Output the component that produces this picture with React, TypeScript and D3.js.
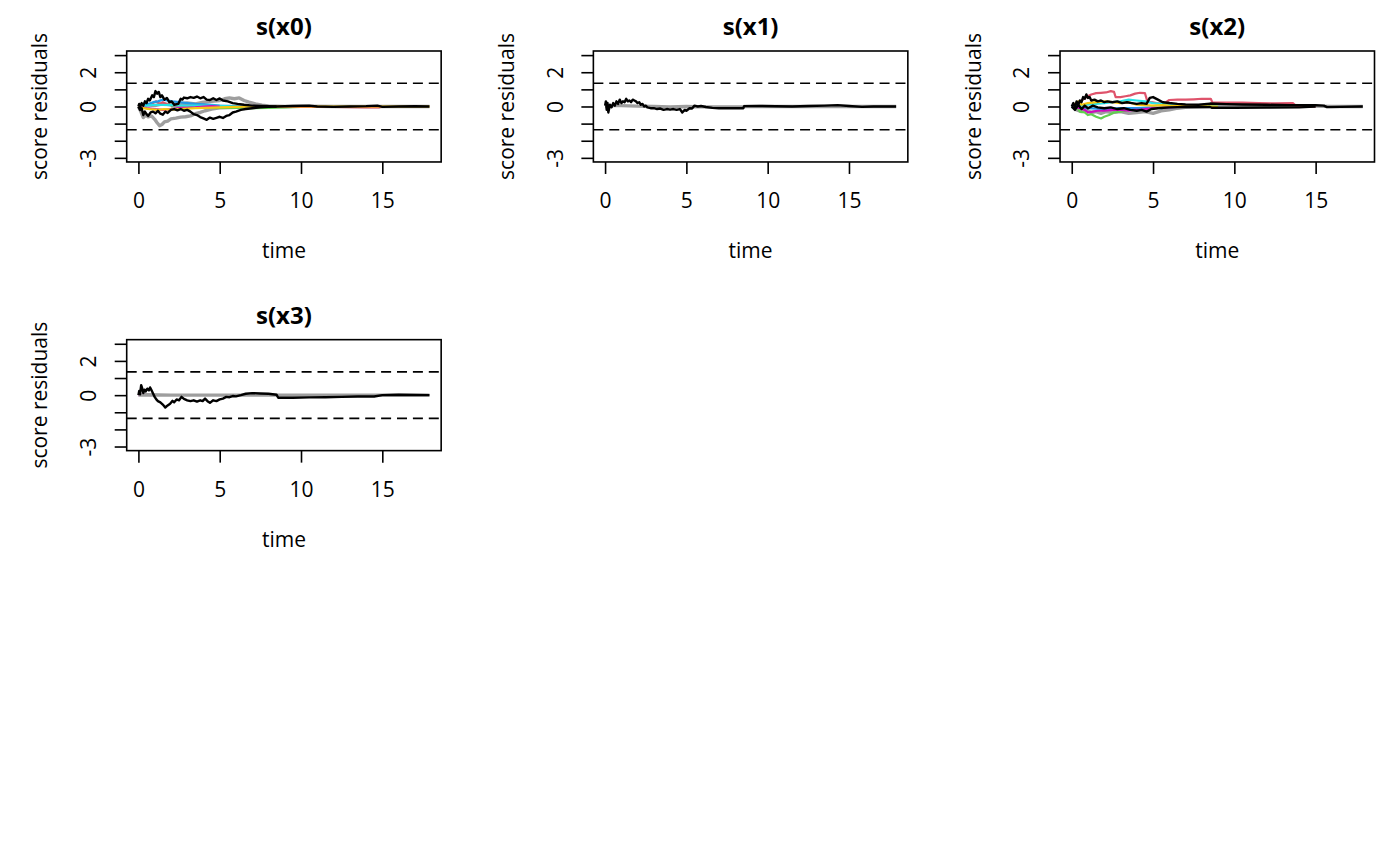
import { useEffect, useRef } from 'react';
import * as d3 from 'd3';

type Pt = [number, number];

// panel text and axes
const titles = ['s(x0)', 's(x1)', 's(x2)', 's(x3)'];
const xLabel = 'time';
const yLabel = 'score residuals';
const xTicks = [0, 5, 10, 15];
const yTicks = [-3, -2, -1, 0, 1, 2, 3];
const yLabelled = [-3, 0, 2];
const xLim: [number, number] = [-0.72, 18.62];
const yLim: [number, number] = [-3.24, 3.24];
const bandLimit = 1.358;

// s(x0)
const x0GreyLow: Pt[] = [[0, 0], [0.15, -0.3], [0.3, -0.65], [0.45, -0.5], [0.6, -0.6], [0.8, -0.55], [1.0, -0.75], [1.15, -0.95], [1.3, -1.12], [1.45, -1.05], [1.6, -0.9], [1.8, -0.85], [2.0, -0.72], [2.3, -0.68], [2.6, -0.62], [2.9, -0.6], [3.2, -0.55], [3.5, -0.42], [3.8, -0.35], [4.1, -0.25], [4.5, -0.15], [5, -0.08], [6, -0.05], [7, -0.02], [8, 0]];
const x0GreyUp: Pt[] = [[0, 0], [0.5, 0.1], [1, 0.05], [1.5, 0.15], [2, 0.1], [2.5, 0.15], [3, 0.2], [3.5, 0.15], [4, 0.25], [4.5, 0.3], [5, 0.35], [5.3, 0.45], [5.6, 0.5], [5.9, 0.45], [6.2, 0.5], [6.5, 0.35], [6.8, 0.25], [7.2, 0.15], [7.6, 0.08], [8, 0.03], [9, 0], [10, 0.02], [12, 0], [15, 0], [17.9, 0]];
const x0Blue: Pt[] = [[0, 0], [0.3, 0.1], [0.6, 0.15], [0.9, 0.25], [1.2, 0.3], [1.5, 0.4], [1.8, 0.35], [2.1, 0.3], [2.5, 0.25], [3, 0.2], [3.5, 0.15], [4, 0.12], [4.5, 0.1], [5, 0.05], [6, 0.02], [7, 0]];
const x0Red: Pt[] = [[0.3, 0], [0.6, 0.1], [0.9, 0.2], [1.1, 0.3], [1.3, 0.15], [1.5, 0.25], [1.8, 0.1], [2.2, 0.05], [3, 0.05], [4, 0.02], [5, 0], [8, 0], [10, -0.02], [12, -0.03], [14, -0.05], [14.8, -0.05], [15, 0]];
const x0Cyan: Pt[] = [[0, 0], [0.5, 0.05], [1, 0.1], [2, 0.08], [3, 0.05], [4, 0.05], [5, 0.03], [6, 0]];
const x0Magenta: Pt[] = [[0, 0], [0.5, -0.1], [1, -0.15], [1.5, -0.2], [2, -0.15], [2.5, -0.1], [3, -0.08], [3.5, -0.05], [4, 0], [4.5, 0.02], [5, 0]];
const x0Yellow: Pt[] = [[0, 0], [0.3, -0.1], [0.7, -0.15], [1.2, -0.2], [1.6, -0.15], [2, -0.18], [2.5, -0.15], [3, -0.12], [3.5, -0.1], [4, -0.08], [5, -0.05], [6, -0.02], [7, 0], [10, 0], [15, 0], [17.9, 0]];
const x0Green: Pt[] = [[2, 0], [3, -0.03], [4, -0.05], [5, -0.08], [6, -0.08], [7, -0.1], [8, -0.08], [9, -0.05], [10, -0.02], [11, 0]];
const x0BlackUp: Pt[] = [[0, 0], [0.05, 0.15], [0.1, -0.05], [0.2, 0.2], [0.3, 0.05], [0.4, 0.3], [0.5, 0.2], [0.6, 0.45], [0.7, 0.35], [0.85, 0.65], [0.95, 0.55], [1.05, 0.9], [1.15, 0.75], [1.25, 0.85], [1.35, 0.55], [1.45, 0.65], [1.6, 0.4], [1.75, 0.5], [1.9, 0.25], [2.05, 0.3], [2.2, 0.1], [2.45, 0.15], [2.6, 0.45], [2.7, 0.4], [2.8, 0.52], [3.0, 0.48], [3.2, 0.55], [3.4, 0.5], [3.6, 0.58], [3.8, 0.48], [4.0, 0.55], [4.2, 0.4], [4.4, 0.38], [4.6, 0.48], [4.8, 0.38], [5.0, 0.47], [5.2, 0.35], [5.5, 0.3], [5.8, 0.2], [6.1, 0.15], [6.5, 0.1], [7, 0.05], [8.0, 0.02], [8.5, 0.0], [9.5, 0.03], [10.5, 0.05], [11, 0.0], [12, -0.02], [13, 0.0], [14, 0.02], [14.7, 0.05], [15, -0.02], [16, 0.0], [17, 0.01], [17.9, 0]];
const x0BlackLow: Pt[] = [[0, 0], [0.1, -0.2], [0.2, -0.1], [0.3, -0.5], [0.4, -0.3], [0.5, -0.45], [0.6, -0.55], [0.75, -0.35], [0.9, -0.3], [1.05, -0.4], [1.2, -0.25], [1.35, -0.42], [1.5, -0.48], [1.65, -0.3], [1.8, -0.38], [2.0, -0.2], [2.2, -0.15], [2.4, -0.22], [2.6, -0.15], [2.8, -0.25], [3.0, -0.2], [3.2, -0.3], [3.4, -0.45], [3.6, -0.5], [3.8, -0.62], [4.0, -0.7], [4.2, -0.78], [4.4, -0.65], [4.6, -0.72], [4.8, -0.66], [5.0, -0.6], [5.2, -0.67], [5.4, -0.55], [5.6, -0.5], [5.8, -0.35], [6.0, -0.3], [6.3, -0.2], [6.6, -0.15], [7.0, -0.1], [7.5, -0.05], [8, -0.02], [8.5, 0]];

// s(x1)
const x1Grey: Pt[] = [[0, 0], [0.5, 0.05], [1, 0.05], [2, 0.02], [3, 0], [4, -0.02], [5, 0], [6, -0.02], [7, -0.03], [8, -0.03], [8.5, -0.03], [8.55, 0], [12, 0], [17.9, 0]];
const x1Black: Pt[] = [[0, 0.05], [0.05, 0.3], [0.1, -0.2], [0.15, 0.2], [0.2, -0.35], [0.3, 0.1], [0.4, -0.05], [0.5, 0.2], [0.6, 0.05], [0.7, 0.3], [0.8, 0.15], [0.9, 0.4], [1.0, 0.2], [1.1, 0.3], [1.2, 0.25], [1.3, 0.45], [1.4, 0.3], [1.5, 0.35], [1.6, 0.25], [1.7, 0.4], [1.8, 0.35], [1.9, 0.3], [2.0, 0.2], [2.1, 0.25], [2.2, 0.1], [2.3, 0.15], [2.4, 0.0], [2.5, 0.05], [2.6, -0.05], [2.8, -0.1], [3.0, -0.1], [3.2, -0.15], [3.4, -0.12], [3.6, -0.2], [3.8, -0.15], [4.0, -0.18], [4.2, -0.15], [4.4, -0.2], [4.6, -0.15], [4.75, -0.35], [4.9, -0.2], [5.0, -0.25], [5.2, -0.1], [5.35, -0.12], [5.5, 0.05], [5.7, 0.0], [5.9, 0.03], [6.2, -0.03], [6.6, -0.08], [7.0, -0.1], [7.5, -0.1], [8.0, -0.1], [8.5, -0.1], [8.55, 0.02], [9.5, 0.03], [10.5, 0.01], [11.5, 0.0], [12.5, 0.03], [13.5, 0.05], [14.3, 0.08], [15, 0.03], [15.8, -0.02], [16.5, 0], [17.9, 0]];

// s(x2)
const x2Grey: Pt[] = [[0, 0], [0.3, -0.2], [0.6, -0.3], [0.9, -0.2], [1.2, -0.35], [1.5, -0.3], [1.8, -0.4], [2.1, -0.3], [2.5, -0.35], [3, -0.3], [3.5, -0.4], [4, -0.35], [4.5, -0.3], [5, -0.4], [5.5, -0.25], [6, -0.2], [6.5, -0.1], [7, -0.05], [8, -0.02], [8.5, 0], [8.6, 0.08], [10, 0.1], [12, 0.08], [14, 0.05], [15, 0.02], [16, 0], [17.9, 0]];
const x2Red: Pt[] = [[0, 0], [0.3, 0.1], [0.6, 0.35], [0.9, 0.55], [1.2, 0.7], [1.5, 0.78], [1.8, 0.8], [2.1, 0.82], [2.4, 0.9], [2.6, 0.85], [2.7, 0.55], [3.0, 0.55], [3.3, 0.6], [3.6, 0.65], [3.9, 0.75], [4.2, 0.8], [4.5, 0.78], [4.65, 0.3], [4.9, 0.25], [5.2, 0.2], [5.5, 0.18], [5.8, 0.25], [6.0, 0.38], [6.5, 0.4], [7, 0.4], [7.5, 0.42], [8, 0.45], [8.55, 0.45], [8.65, 0.24], [9.5, 0.22], [10.5, 0.22], [11.5, 0.2], [12.5, 0.18], [13.6, 0.2], [13.8, 0.03], [14.5, 0], [15, 0]];
const x2Green: Pt[] = [[0.3, 0], [0.5, -0.3], [0.8, -0.35], [1.0, -0.5], [1.2, -0.45], [1.5, -0.6], [1.8, -0.7], [2.0, -0.6], [2.3, -0.5], [2.6, -0.35], [3, -0.3], [3.5, -0.2], [4, -0.15], [5, -0.1], [6, -0.05], [7, 0]];
const x2Blue: Pt[] = [[0, 0], [0.5, -0.05], [1, -0.1], [2, -0.15], [3, -0.1], [4, -0.1], [5, -0.05], [5.5, -0.1], [6, -0.05], [7, 0], [9, 0]];
const x2Cyan: Pt[] = [[0, 0], [1, 0.1], [2, 0.2], [2.5, 0.25], [3, 0.3], [3.5, 0.4], [4, 0.35], [4.5, 0.3], [5, 0.2], [5.5, 0.15], [6, 0.1], [7, 0.05], [8, 0.02], [9, 0]];
const x2Magenta: Pt[] = [[0, 0], [0.5, -0.1], [0.8, -0.2], [1.0, -0.35], [1.3, -0.3], [1.6, -0.25], [2, -0.25], [2.5, -0.2], [3, -0.2], [3.5, -0.25], [3.8, -0.2], [4.2, -0.2], [4.5, -0.15], [5, -0.1], [6, -0.05], [7, 0]];
const x2Yellow: Pt[] = [[0, 0], [0.4, 0.3], [0.6, 0.1], [1, 0.2], [1.5, 0.25], [2, 0.3], [2.5, 0.25], [3, 0.2], [3.5, 0.25], [4, 0.1], [4.5, 0.08], [5, 0.05], [5.5, 0.08], [6, 0.05], [7, 0.03], [8, 0.02], [9, 0]];
const x2BlackA: Pt[] = [[0, 0], [0.1, 0.2], [0.2, -0.1], [0.3, 0.3], [0.4, 0.1], [0.5, 0.35], [0.6, 0.25], [0.7, 0.55], [0.8, 0.45], [0.9, 0.7], [1.0, 0.5], [1.1, 0.55], [1.2, 0.35], [1.4, 0.4], [1.6, 0.3], [1.8, 0.35], [2.0, 0.25], [2.2, 0.3], [2.5, 0.25], [2.8, 0.3], [3.1, 0.2], [3.4, 0.25], [3.7, 0.2], [4.0, 0.15], [4.3, 0.2], [4.6, 0.15], [4.8, 0.5], [5.0, 0.55], [5.3, 0.4], [5.6, 0.25], [6, 0.2], [6.5, 0.15], [7, 0.12], [7.8, 0.1], [8.5, 0.17], [9.5, 0.14], [10.5, 0.12], [12, 0.1], [13.5, 0.08], [15, 0.07], [15.5, 0.05], [15.7, -0.04], [16.5, -0.02], [17.9, 0]];
const x2BlackB: Pt[] = [[0, 0], [0.2, -0.2], [0.4, 0.1], [0.6, -0.15], [0.8, 0.05], [1.0, -0.1], [1.3, 0.05], [1.6, -0.05], [2.0, -0.1], [2.4, -0.05], [2.8, -0.15], [3.2, -0.1], [3.6, -0.2], [4.0, -0.25], [4.3, -0.2], [4.6, -0.3], [4.9, -0.15], [5.3, -0.1], [6, -0.05], [7, -0.02], [8.5, -0.03], [8.6, -0.07], [10, -0.07], [12, -0.06], [14, -0.05], [14.6, -0.02], [15, 0]];

// s(x3)
const x3Grey: Pt[] = [[0, 0], [0.5, 0.02], [2, 0], [8.5, 0], [15, 0], [17.9, 0]];
const x3Magenta: Pt[] = [[0, 0], [0.3, 0.04], [0.6, 0.02], [0.8, 0]];
const x3Black: Pt[] = [[0, 0], [0.05, 0.25], [0.1, 0.05], [0.17, 0.58], [0.25, 0.35], [0.3, 0.12], [0.38, 0.32], [0.45, 0.22], [0.55, 0.38], [0.65, 0.28], [0.72, 0.45], [0.8, 0.3], [0.9, 0.1], [1.0, -0.1], [1.1, -0.25], [1.2, -0.35], [1.35, -0.42], [1.5, -0.55], [1.65, -0.72], [1.8, -0.6], [1.95, -0.5], [2.1, -0.33], [2.2, -0.42], [2.35, -0.25], [2.5, -0.3], [2.65, -0.1], [2.8, -0.22], [3.0, -0.3], [3.2, -0.35], [3.4, -0.3], [3.6, -0.38], [3.8, -0.3], [3.95, -0.35], [4.1, -0.2], [4.25, -0.35], [4.4, -0.45], [4.6, -0.3], [4.8, -0.35], [5.0, -0.25], [5.2, -0.2], [5.4, -0.1], [5.6, -0.12], [5.8, -0.05], [6.0, -0.07], [6.3, 0.0], [6.6, 0.08], [7.0, 0.12], [7.5, 0.1], [8.0, 0.08], [8.5, 0.02], [8.6, -0.15], [9.5, -0.15], [10.5, -0.13], [11.5, -0.12], [12.5, -0.1], [13.5, -0.08], [14.5, -0.08], [15.0, 0.0], [16, 0.02], [17.9, 0.0]];

// R default palette
const palette: Record<string, string> = {
  black: '#000000',
  red: '#DF536B',
  green: '#61D04F',
  blue: '#2297E6',
  cyan: '#28E2E5',
  magenta: '#CD0BBC',
  yellow: '#F5C710',
  grey: '#9E9E9E',
};

const panels: { pts: Pt[]; col: string }[][] = [
  [
    { pts: x0GreyLow, col: 'grey' },
    { pts: x0GreyUp, col: 'grey' },
    { pts: x0Green, col: 'green' },
    { pts: x0Red, col: 'red' },
    { pts: x0Blue, col: 'blue' },
    { pts: x0Cyan, col: 'cyan' },
    { pts: x0Magenta, col: 'magenta' },
    { pts: x0Yellow, col: 'yellow' },
    { pts: x0BlackLow, col: 'black' },
    { pts: x0BlackUp, col: 'black' },
  ],
  [
    { pts: x1Grey, col: 'grey' },
    { pts: x1Black, col: 'black' },
  ],
  [
    { pts: x2Grey, col: 'grey' },
    { pts: x2Red, col: 'red' },
    { pts: x2Green, col: 'green' },
    { pts: x2Blue, col: 'blue' },
    { pts: x2Magenta, col: 'magenta' },
    { pts: x2Cyan, col: 'cyan' },
    { pts: x2Yellow, col: 'yellow' },
    { pts: x2BlackB, col: 'black' },
    { pts: x2BlackA, col: 'black' },
  ],
  [
    { pts: x3Magenta, col: 'magenta' },
    { pts: x3Grey, col: 'grey' },
    { pts: x3Black, col: 'black' },
  ],
];

const WIDTH = 1400;
const HEIGHT = 866;
const FONT = '"Open Sans", "Noto Sans", sans-serif';

export default function App() {
  const svgRef = useRef<SVGSVGElement>(null);

  useEffect(() => {
    if (!svgRef.current) return;
    const svg = d3.select(svgRef.current);
    svg.selectAll('*').remove();

    // 3x3 layout like par(mfrow = c(3, 3))
    const cellW = WIDTH / 3;
    const cellH = HEIGHT / 3;
    const margin = { top: 51, right: 25.5, bottom: 126.7, left: 126.7 };

    panels.forEach((series, i) => {
      const g = svg
        .append('g')
        .attr('transform', `translate(${(i % 3) * cellW},${Math.floor(i / 3) * cellH})`);

      const x = d3.scaleLinear().domain(xLim).range([margin.left, cellW - margin.right]);
      const y = d3.scaleLinear().domain(yLim).range([cellH - margin.bottom, margin.top]);
      const [x0, x1] = x.range();
      const [yBottom, yTop] = y.range();

      // x axis
      const xAxis = g
        .append('g')
        .attr('transform', `translate(0,${yBottom})`)
        .call(d3.axisBottom(x).tickValues(xTicks).tickSize(12).tickSizeOuter(0).tickPadding(19.4).tickFormat((d) => String(d)));
      xAxis.select('.domain').remove();
      xAxis.attr('font-size', 21).attr('font-family', FONT);
      xAxis.selectAll('line').attr('stroke-width', 1.6);

      // y axis, labels parallel to the axis
      const yAxis = g
        .append('g')
        .attr('transform', `translate(${x0},0)`)
        .call(
          d3
            .axisLeft(y)
            .tickValues(yTicks)
            .tickSize(12)
            .tickSizeOuter(0)
            .tickFormat((d) => (yLabelled.includes(+d) ? String(d) : ''))
        );
      yAxis.select('.domain').remove();
      yAxis.attr('font-size', 21).attr('font-family', FONT);
      yAxis.selectAll('line').attr('stroke-width', 1.6);
      yAxis
        .selectAll('text')
        .attr('x', null)
        .attr('dy', null)
        .attr('text-anchor', 'middle')
        .attr('transform', 'translate(-30.7,0) rotate(-90)');

      // reference band
      [bandLimit, -bandLimit].forEach((v) => {
        g.append('line')
          .attr('x1', x0)
          .attr('x2', x1)
          .attr('y1', y(v))
          .attr('y2', y(v))
          .attr('stroke', 'black')
          .attr('stroke-width', 1.7)
          .attr('stroke-dasharray', '10,5.9');
      });

      // residual paths
      const line = d3
        .line<Pt>()
        .x((d) => x(d[0]))
        .y((d) => y(d[1]));

      series.forEach((s) => {
        g.append('path')
          .datum(s.pts)
          .attr('fill', 'none')
          .attr('stroke', palette[s.col])
          .attr('stroke-width', s.col === 'grey' ? 3.4 : s.col === 'black' ? 2.4 : 2.2)
          .attr('stroke-linejoin', 'round')
          .attr('d', line);
      });

      // box
      g.append('rect')
        .attr('x', x0)
        .attr('y', yTop)
        .attr('width', x1 - x0)
        .attr('height', yBottom - yTop)
        .attr('fill', 'none')
        .attr('stroke', 'black')
        .attr('stroke-width', 1.6);

      // titles and labels
      const cx = (x0 + x1) / 2;
      g.append('text')
        .attr('x', cx)
        .attr('y', 35)
        .attr('text-anchor', 'middle')
        .attr('font-family', FONT)
        .attr('font-weight', 'bold')
        .attr('font-size', 24)
        .text(titles[i]);

      g.append('text')
        .attr('x', cx)
        .attr('y', 258.3)
        .attr('text-anchor', 'middle')
        .attr('font-family', FONT)
        .attr('font-size', 21)
        .text(xLabel);

      g.append('text')
        .attr('transform', `translate(47.3,${(yTop + yBottom) / 2}) rotate(-90)`)
        .attr('text-anchor', 'middle')
        .attr('font-family', FONT)
        .attr('font-size', 21)
        .text(yLabel);
    });
  }, []);

  return (
    <svg
      ref={svgRef}
      width={WIDTH}
      height={HEIGHT}
      style={{ position: 'absolute', left: 0, top: 0, background: 'white' }}
    />
  );
}
